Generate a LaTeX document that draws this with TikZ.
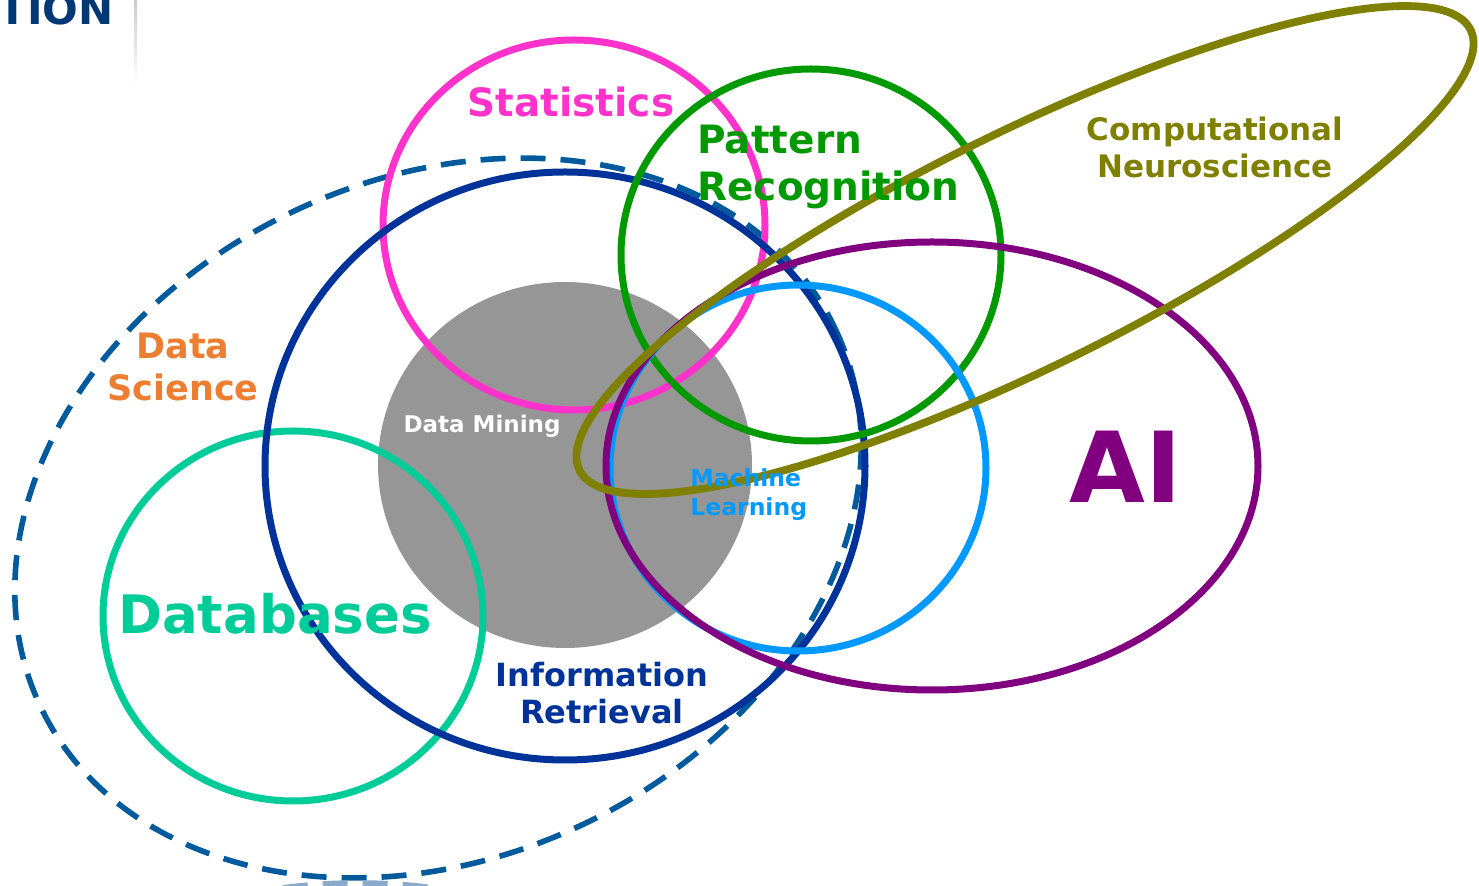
\documentclass[tikz,border=0pt]{standalone}
\usepackage{fontspec}
\setmainfont{DejaVu Sans}
\begin{document}
\definecolor{cStat}{HTML}{FF33CC}
\definecolor{cPat}{HTML}{009900}
\definecolor{cNeuro}{HTML}{808000}
\definecolor{cAI}{HTML}{800080}
\definecolor{cML}{HTML}{0099FF}
\definecolor{cDB}{HTML}{00CC99}
\definecolor{cIR}{HTML}{003399}
\definecolor{cDS}{HTML}{005A9C}
\definecolor{cDSlight}{HTML}{8AAACC}
\definecolor{cSci}{HTML}{ED7D31}
\definecolor{cDM}{HTML}{969696}
\definecolor{cHead}{HTML}{003876}
\begin{tikzpicture}[x=0.5pt,y=-0.5pt,
  ring/.style={line width=3.5pt},
  dashring/.style={line width=2.8pt,dash pattern=on 12.5pt off 7.5pt},
  lbl/.style={inner sep=0pt,font=\bfseries}]
\useasboundingbox (0,0) rectangle (1479,886);
\clip (0,0) rectangle (1479,886);

% header remnants
\node[lbl,text=cHead,anchor=base west,font=\bfseries\fontsize{21pt}{24pt}\selectfont] (head) at (-2,25) {TION};
\shade[top color=gray!40,bottom color=white] (134,0) rectangle (137,85);

% data mining disk
\fill[cDM] (565,465) ellipse [x radius=187,y radius=183];

% data science (dashed) and a lower dashed outline
\draw[cDS,dashring] (438,518) ellipse [x radius=440,y radius=339,rotate=25.5];
\draw[cDSlight,dashring] (358,990) ellipse [x radius=250,y radius=107];

% circles
\draw[ring,cDB] (293,616) ellipse [x radius=190,y radius=185];
\draw[ring,cStat] (574,225) ellipse [x radius=191,y radius=185];
\draw[ring,cIR] (565,466) ellipse [x radius=300,y radius=294];
\draw[ring,cPat] (811,255) ellipse [x radius=190,y radius=186];
\draw[ring,cML] (798,468) ellipse [x radius=188,y radius=183];
\draw[ring,cAI] (932,466) ellipse [x radius=326,y radius=224];
\draw[cNeuro,line width=3.9pt] (1025,250) ellipse [x radius=497,y radius=117,rotate=26.3];

% labels
\node[lbl,text=cStat,font=\bfseries\fontsize{19.5pt}{23.5pt}\selectfont] (stat) at (571,102) {Statistics};
\node[lbl,text=cPat,anchor=west,align=left,font=\bfseries\fontsize{19.5pt}{23.5pt}\selectfont] (pat) at (697,167) {Pattern\\Recognition};
\node[lbl,text=cNeuro,align=center,font=\bfseries\fontsize{15.5pt}{18.5pt}\selectfont] (neuro) at (1215,147) {Computational\\Neuroscience};
\node[lbl,text=cSci,align=center,font=\bfseries\fontsize{17.5pt}{21pt}\selectfont] (sci) at (183,367) {Data\\Science};
\node[lbl,text=white,font=\bfseries\fontsize{11.5pt}{14pt}\selectfont] (dm) at (482,426) {Data Mining};
\node[lbl,text=cML,anchor=west,align=left,font=\bfseries\fontsize{11.75pt}{14.5pt}\selectfont] (ml) at (690,495) {Machine\\Learning};
\node[lbl,text=cAI,font=\bfseries\fontsize{49pt}{52pt}\selectfont] (ai) at (1126,467) {AI};
\node[lbl,text=cDB,font=\bfseries\fontsize{26.5pt}{30pt}\selectfont] (db) at (275,614) {Databases};
\node[lbl,text=cIR,align=center,font=\bfseries\fontsize{16pt}{18.5pt}\selectfont] (ir) at (602,693) {Information\\Retrieval};
\end{tikzpicture}
\end{document}
